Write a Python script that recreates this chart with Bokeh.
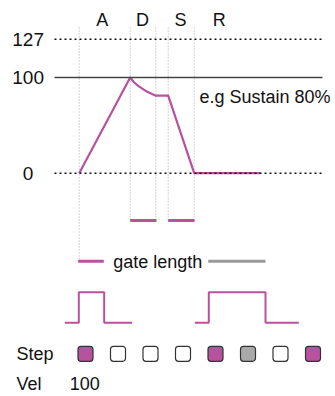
from bokeh.plotting import figure
from bokeh.models import Range1d
from bokeh.core.properties import value
from bokeh.embed import file_html
from bokeh.resources import INLINE

# ---------------- data ----------------
phase_labels = ["A", "D", "S", "R"]
phase_x = [101.7, 142, 180, 218.7]

level_labels = ["127", "100", "0"]
level_pos = [140, 100, 0]          # drawn position on envelope scale (127 not to scale)

env_x = [78.7, 129.7, 133.5, 138.0, 146.7, 155.3, 167.7, 193.7, 260.0]
env_v = [0, 100, 95.0, 91.0, 85.0, 81.0, 81.0, 0, 0]

marker_x = [78.7, 129.7, 155.3, 167.7, 193.7]
marker_bottom = [260.7, 220, 220, 220, 220]

gate_x0 = [129.7, 167.7]
gate_x1 = [156.0, 194.0]

pulse1_x = [64.3, 78.3, 78.3, 103.7, 103.7, 131.7]
pulse2_x = [194.3, 208.3, 208.3, 265.0, 265.0, 298.3]
pulse_state = [0, 0, 1, 1, 0, 0]

step_x = [85, 117.5, 150, 182.5, 215, 247.5, 280, 312.5]
step_state = ["on", "off", "off", "off", "on", "tie", "off", "on"]
vel_label = "100"
sustain_text = "e.g Sustain 80%"

PINK = "#b8519e"
FONT = value("Liberation Sans")

W, H = 335, 396
p = figure(width=W, height=H, output_backend="svg", toolbar_location=None,
           x_range=Range1d(0, W), y_range=Range1d(H, 0),
           x_axis_type=None, y_axis_type=None, min_border=0)
p.outline_line_color = None
p.grid.visible = False
p.background_fill_color = "white"

# envelope value scale: 0 -> 172.7px from top, 100 -> 77px from top
y0_px, y100_px = 172.7, 77.0
per = (y0_px - y100_px) / 100.0
p.extra_y_ranges = {"env": Range1d(-(H - y0_px) / per, 100 + y100_px / per)}

# vertical phase markers
p.segment(x0=marker_x, x1=marker_x, y0=[27] * len(marker_x), y1=marker_bottom,
          line_color="#a8a8a8", line_width=1, line_dash="1 2")

# envelope
p.line(x=env_x, y=env_v, y_range_name="env", line_color=PINK, line_width=2.2)

# level lines (drawn over the envelope so the dotted zero line shows through)
x_left, x_right = 54, 322
for pos, lab in zip(level_pos, level_labels):
    dash = "solid" if lab == "100" else "2 3"
    col = "#444444" if lab == "100" else "#111111"
    p.line(x=[x_left, x_right], y=[pos, pos], y_range_name="env",
           line_color=col, line_width=1.4 if lab == "100" else 1.6, line_dash=dash)
p.text(x=[27.6] * 3, y=level_pos, text=level_labels, y_range_name="env",
       text_font=FONT, text_font_size="19px", text_align="center",
       text_baseline="middle", text_color="#111111")

# phase labels
p.text(x=phase_x, y=[19] * 4, text=phase_labels, text_font=FONT,
       text_font_size="18px", text_align="center", text_baseline="middle",
       text_color="#111111")

# sustain note
p.text(x=[199], y=[96.7], text=[sustain_text], text_font=FONT,
       text_font_size="18px", text_align="left", text_baseline="middle",
       text_color="#111111")

# gate segments for D/S
p.segment(x0=gate_x0, x1=gate_x1, y0=[220] * 2, y1=[220] * 2,
          line_color=PINK, line_width=3)

# legend "gate length"
p.segment(x0=[77.7], x1=[103.3], y0=[260.7], y1=[260.7], line_color=PINK, line_width=3)
p.segment(x0=[207.7], x1=[265], y0=[260.7], y1=[260.7], line_color="#999999", line_width=3)
p.text(x=[112.7], y=[261.5], text=["gate length"], text_font=FONT,
       text_font_size="18px", text_align="left", text_baseline="middle",
       text_color="#111111")

# gate pulses
base_y, high_y = 322.3, 291.7
p.line(x=pulse1_x, y=[high_y if s else base_y for s in pulse_state],
       line_color=PINK, line_width=2)
p.line(x=pulse2_x, y=[high_y if s else base_y for s in pulse_state],
       line_color=PINK, line_width=2)

# steps
fills = {"on": PINK, "off": "white", "tie": "#a9a9a9"}
half = 7.5
sy = 353.3
p.quad(left=[x - half for x in step_x], right=[x + half for x in step_x],
       top=[sy - half] * len(step_x), bottom=[sy + half] * len(step_x),
       fill_color=[fills[s] for s in step_state], line_color="#333333",
       line_width=1.2, border_radius=3)

p.text(x=[16, 16], y=[353.3, 383.3], text=["Step", "Vel"], text_font=FONT,
       text_font_size="18px", text_align="left", text_baseline="middle",
       text_color="#111111")
p.text(x=[69.3], y=[383.3], text=[vel_label], text_font=FONT,
       text_font_size="18px", text_align="left", text_baseline="middle",
       text_color="#111111")

open("out.html", "w").write(file_html(p, INLINE))
